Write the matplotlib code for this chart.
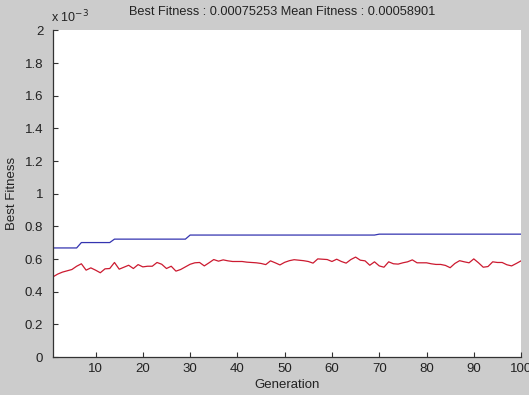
import matplotlib
matplotlib.use("Agg")
import matplotlib.pyplot as plt
from matplotlib.ticker import FormatStrFormatter

plt.rcParams['font.family'] = ['Liberation Sans', 'DejaVu Sans']

# 数据（单位 1e-3）
generations = list(range(1, 101))
best_fitness = ([0.668] * 6 + [0.701] * 7 + [0.722] * 16 + [0.747] * 40
                + [0.75253] * 31)
mean_fitness = [
    0.491, 0.508, 0.520, 0.528, 0.536, 0.556, 0.571, 0.532, 0.546, 0.532,
    0.516, 0.540, 0.542, 0.579, 0.538, 0.550, 0.562, 0.542, 0.566, 0.552,
    0.556, 0.556, 0.579, 0.568, 0.542, 0.556, 0.526, 0.536, 0.552, 0.568,
    0.577, 0.579, 0.558, 0.577, 0.597, 0.587, 0.595, 0.589, 0.585, 0.585,
    0.585, 0.581, 0.579, 0.577, 0.573, 0.566, 0.589, 0.577, 0.564, 0.580,
    0.590, 0.596, 0.593, 0.590, 0.585, 0.575, 0.601, 0.599, 0.597, 0.585,
    0.599, 0.585, 0.575, 0.597, 0.612, 0.593, 0.589, 0.562, 0.583, 0.558,
    0.550, 0.583, 0.571, 0.569, 0.577, 0.583, 0.595, 0.577, 0.577, 0.577,
    0.571, 0.567, 0.567, 0.561, 0.547, 0.573, 0.590, 0.583, 0.577, 0.601,
    0.577, 0.550, 0.554, 0.583, 0.579, 0.579, 0.565, 0.558, 0.573, 0.589,
]
x_ticks = [10, 20, 30, 40, 50, 60, 70, 80, 90, 100]
y_ticks = [0, 0.2, 0.4, 0.6, 0.8, 1, 1.2, 1.4, 1.6, 1.8, 2]
title_text = "Best Fitness : 0.00075253 Mean Fitness : 0.00058901"

fig = plt.figure(figsize=(5.29, 3.95), dpi=100, facecolor='#cccccc')
ax = fig.add_axes([0.1002, 0.0962, 0.8848, 0.8266])
ax.set_facecolor('white')

ax.plot(generations, best_fitness, color='#3434b0', lw=0.9)
ax.plot(generations, mean_fitness, color='#cc1a30', lw=0.9)

ax.set_xlim(1, 100)
ax.set_ylim(0, 2)
ax.set_xticks(x_ticks)
ax.set_yticks(y_ticks)
ax.yaxis.set_major_formatter(FormatStrFormatter('%g'))

for s in ['top', 'right']:
    ax.spines[s].set_visible(False)
for s in ['left', 'bottom']:
    ax.spines[s].set_color('#333333')
    ax.spines[s].set_linewidth(0.9)
ax.tick_params(direction='in', length=3.5, width=0.8, color='#333333',
               labelsize=9.5, labelcolor='#222222')
ax.tick_params(axis='y', pad=7)
ax.tick_params(axis='x', pad=4)

ax.set_title(title_text, fontsize=9.2, color='#222222', pad=11, x=0.49)
ax.set_xlabel('Generation', fontsize=9.5, color='#222222', labelpad=3)
ax.set_ylabel('Best Fitness', fontsize=9.5, color='#222222', labelpad=5)
ax.text(-0.005, 1.015, r'x 10$^{-3}$', transform=ax.transAxes, fontsize=9,
        color='#222222', ha='left', va='bottom')

fig.savefig('out.png', dpi=100, facecolor=fig.get_facecolor())
